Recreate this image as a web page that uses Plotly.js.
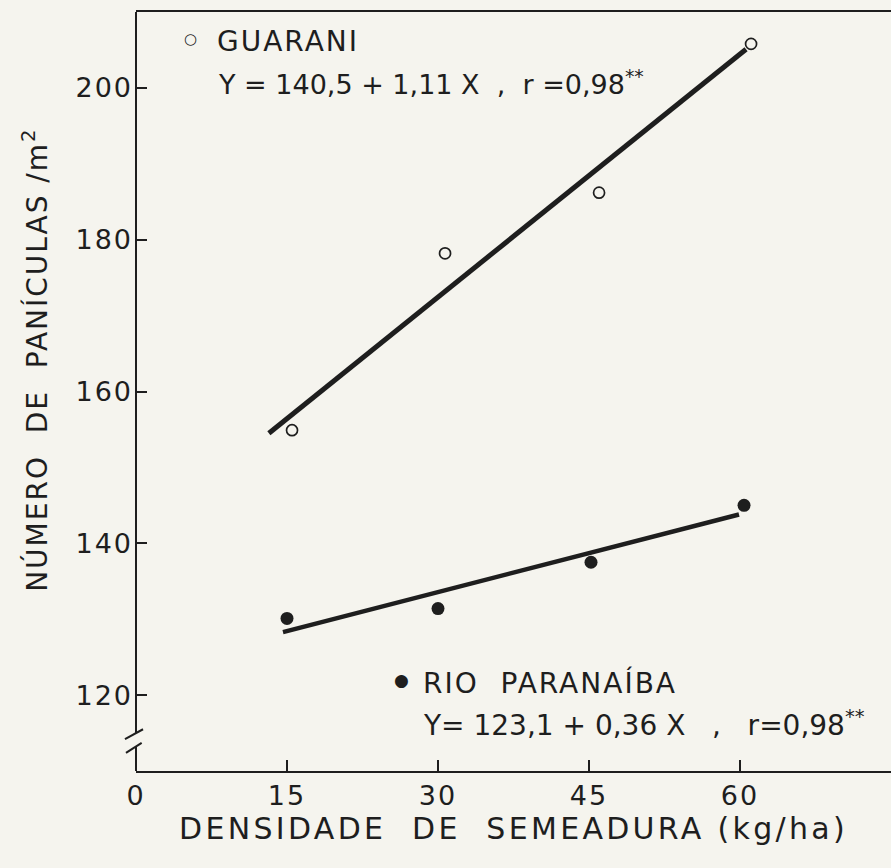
<!DOCTYPE html>
<html>
<head>
<meta charset="utf-8">
<script src="https://cdn.plot.ly/plotly-3.0.1.min.js"></script>
<style>
html,body{margin:0;padding:0;background:#f5f4ee;}
#chart .xtick text, #chart .ytick text { letter-spacing: 2px; }
#chart text.xtitle { letter-spacing: 3.3px; }
</style>
</head>
<body>
<div id="chart" style="width:891px;height:868px;"></div>
<script>
const guaraniX = [15.5, 30.7, 46.0, 61.1];
const guaraniY = [154.9, 178.2, 186.2, 205.8];
const rioX = [15.0, 30.0, 45.2, 60.4];
const rioY = [130.1, 131.4, 137.5, 145.0];
// Fitted regression lines (end points as drawn)
const guaraniFitX = [13.2, 60.6];
const guaraniFitY = [154.5, 205.1];
const rioFitX = [14.6, 59.9];
const rioFitY = [128.3, 143.8];
// Ticks
const xTicks = [0, 15, 30, 45, 60];
const xTickText = ['0', '15', '30', '45', '60'];
const yTicks = [120, 140, 160, 180, 200];
const yTickText = ['120', '140', '160', '180', '200'];

const ink = '#1e1e1e';
const FONT = 'DejaVu Sans, sans-serif';

const traces = [
  {x: guaraniFitX, y: guaraniFitY, mode: 'lines', line: {color: ink, width: 5}, showlegend: false, hoverinfo: 'skip'},
  {x: rioFitX, y: rioFitY, mode: 'lines', line: {color: ink, width: 4.5}, showlegend: false, hoverinfo: 'skip'},
  {x: guaraniX, y: guaraniY, mode: 'markers', name: 'GUARANI',
   marker: {symbol: 'circle-open', size: 11, color: ink, line: {width: 1.7, color: ink}}, showlegend: false},
  {x: rioX, y: rioY, mode: 'markers', name: 'RIO PARANAÍBA',
   marker: {symbol: 'circle', size: 13, color: ink}, showlegend: false}
];

const layout = {
  width: 891, height: 868,
  margin: {l: 136, r: 0, t: 12, b: 97},
  paper_bgcolor: '#f5f4ee',
  plot_bgcolor: '#f5f4ee',
  font: {family: FONT, color: ink},
  xaxis: {
    range: [0, 75], tickvals: xTicks, ticktext: xTickText,
    ticks: 'inside', ticklen: 11, tickwidth: 2, tickcolor: ink,
    showline: true, linewidth: 2, linecolor: ink, mirror: true,
    showgrid: false, zeroline: false,
    tickfont: {size: 27, family: FONT, color: ink},
    ticklabelstandoff: 0,
    title: {text: 'DENSIDADE  DE  SEMEADURA (kg/ha)', font: {size: 30, family: FONT, color: ink}, standoff: 8}
  },
  yaxis: {
    range: [110, 210], tickvals: yTicks, ticktext: yTickText,
    ticks: 'inside', ticklen: 11, tickwidth: 2, tickcolor: ink,
    showline: false, showgrid: false, zeroline: false,
    tickfont: {size: 27, family: FONT, color: ink},
    ticklabelstandoff: 2
  },
  shapes: [
    // y axis line with a break near the bottom
    {type: 'line', xref: 'paper', yref: 'y', x0: 0, x1: 0, y0: 115.0, y1: 210, line: {color: ink, width: 2}},
    {type: 'line', xref: 'paper', yref: 'y', x0: 0, x1: 0, y0: 110, y1: 113.2, line: {color: ink, width: 2}},
    {type: 'line', xref: 'paper', yref: 'y', x0: -0.0146, x1: 0.0093, y0: 114.2, y1: 115.5, line: {color: ink, width: 2}},
    {type: 'line', xref: 'paper', yref: 'y', x0: -0.0133, x1: 0.0075, y0: 112.4, y1: 113.7, line: {color: ink, width: 2}}
  ],
  annotations: [
    // y-axis title
    {xref: 'paper', yref: 'paper', x: -0.134, y: 0.5415, textangle: -90,
     text: '<span style="letter-spacing:2px">NÚMERO  DE  PANÍCULAS /m<sup>2</sup></span>',
     showarrow: false, xanchor: 'center', yanchor: 'middle', font: {size: 28, family: FONT, color: ink}},
    {xref: 'paper', yref: 'y', x: 0.072, y: 206.4, text: '○', showarrow: false, xanchor: 'center', yanchor: 'middle', font: {size: 15, family: FONT, color: ink}},
    {xref: 'paper', yref: 'y', x: 0.104, y: 206.1, text: '<span style="letter-spacing:2px">GUARANI</span>', showarrow: false, xanchor: 'left', yanchor: 'middle', font: {size: 28, family: FONT, color: ink}},
    {xref: 'paper', yref: 'y', x: 0.106, y: 200.7, text: 'Y = 140,5 + 1,11 X  ,  r =0,98<sup>**</sup>', showarrow: false, xanchor: 'left', yanchor: 'middle', font: {size: 27, family: FONT, color: ink}},
    {xref: 'paper', yref: 'y', x: 0.351, y: 122.0, text: '●', showarrow: false, xanchor: 'center', yanchor: 'middle', font: {size: 17, family: FONT, color: ink}},
    {xref: 'paper', yref: 'y', x: 0.378, y: 121.6, text: '<span style="letter-spacing:2px">RIO  PARANAÍBA</span>', showarrow: false, xanchor: 'left', yanchor: 'middle', font: {size: 28, family: FONT, color: ink}},
    {xref: 'paper', yref: 'y', x: 0.378, y: 116.3, text: 'Y= 123,1 + 0,36 X   ,   r=0,98<sup>**</sup>', showarrow: false, xanchor: 'left', yanchor: 'middle', font: {size: 28, family: FONT, color: ink}}
  ]
};

Plotly.newPlot('chart', traces, layout, {displayModeBar: false, staticPlot: true});
</script>
</body>
</html>
